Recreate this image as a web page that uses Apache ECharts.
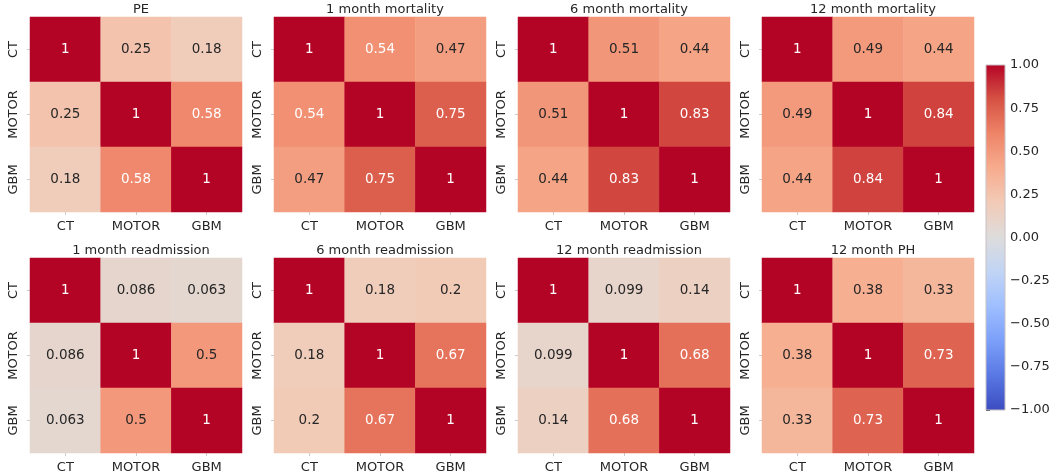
<!DOCTYPE html>
<html>
<head>
<meta charset="utf-8">
<script src="https://cdn.jsdelivr.net/npm/echarts@6/dist/echarts.min.js"></script>
<style>
  html, body { margin: 0; padding: 0; background: #fff; }
  #chart { width: 1056px; height: 475px; }
</style>
</head>
<body>
<div id="chart"></div>
<script>
// categories shared by every panel
const labels = ["CT", "MOTOR", "GBM"];
const titles = [
  "PE", "1 month mortality", "6 month mortality", "12 month mortality",
  "1 month readmission", "6 month readmission", "12 month readmission", "12 month PH"
];
// off-diagonal correlations per panel: [CT-MOTOR, CT-GBM, MOTOR-GBM]
const pe = [0.25, 0.18, 0.58];
const mort1 = [0.54, 0.47, 0.75];
const mort6 = [0.51, 0.44, 0.83];
const mort12 = [0.49, 0.44, 0.84];
const readm1 = [0.086, 0.063, 0.5];
const readm6 = [0.18, 0.2, 0.67];
const readm12 = [0.099, 0.14, 0.68];
const ph12 = [0.38, 0.33, 0.73];
const panels = [pe, mort1, mort6, mort12, readm1, readm6, readm12, ph12];
const cbarTicks = [-1, -0.75, -0.5, -0.25, 0, 0.25, 0.5, 0.75, 1];

// coolwarm colormap stops (low -> high)
const coolwarm = ["#3b4cc0", "#5977e3", "#7b9ff9", "#9ebeff", "#c0d4f5", "#dddcdc",
  "#f2cbb7", "#f7ac8e", "#ee8468", "#d65244", "#b40426"];

const chart = echarts.init(document.getElementById("chart"));
const textColor = "#262626";
const font = "DejaVu Sans";

function matrix(v) {
  const m = [[1, v[0], v[1]], [v[0], 1, v[2]], [v[1], v[2], 1]];
  const out = [];
  for (let r = 0; r < 3; r++) {
    for (let c = 0; c < 3; c++) {
      const val = m[r][c];
      out.push({
        value: [c, r, val],
        label: { color: val > 0.52 ? "#ffffff" : textColor }
      });
    }
  }
  return out;
}

const lefts = [30, 274, 518, 762];
const tops = [17, 258];
const gw = 212, gh = 195;

const grids = [], xAxes = [], yAxes = [], series = [], title = [];
panels.forEach((p, i) => {
  const col = i % 4, row = Math.floor(i / 4);
  grids.push({ left: lefts[col], top: tops[row], width: gw, height: gh });
  title.push({
    text: titles[i],
    left: lefts[col] + gw / 2,
    top: row === 0 ? -2 : 239,
    textAlign: "center",
    textStyle: { fontFamily: font, fontSize: 13, fontWeight: "normal", color: textColor }
  });
  xAxes.push({
    type: "category", data: labels, gridIndex: i,
    axisLine: { show: false }, splitLine: { show: false },
    axisTick: { show: true, alignWithLabel: true, length: 3, lineStyle: { color: "#cccccc" } },
    axisLabel: { fontFamily: font, fontSize: 13, color: textColor, margin: 8 }
  });
  yAxes.push({
    type: "category", data: labels, gridIndex: i, inverse: true,
    axisLine: { show: false }, splitLine: { show: false },
    axisTick: { show: true, alignWithLabel: true, length: 3, lineStyle: { color: "#cccccc" } },
    axisLabel: { fontFamily: font, fontSize: 13, color: textColor, rotate: 90, margin: 10 }
  });
  series.push({
    type: "heatmap", xAxisIndex: i, yAxisIndex: i,
    data: matrix(p),
    label: {
      show: true, fontFamily: font, fontSize: 13.5,
      formatter: (d) => String(d.value[2])
    },
    itemStyle: { borderWidth: 0 },
    emphasis: { disabled: true }
  });
});

// colorbar
const cb = panels.length;
grids.push({ left: 986, top: 65, width: 19, height: 345 });
xAxes.push({ type: "value", gridIndex: cb, min: 0, max: 1, show: false });
yAxes.push({
  type: "value", gridIndex: cb, min: -1, max: 1, interval: 0.25, position: "right",
  axisLine: { show: false }, splitLine: { show: false },
  axisTick: { show: true, length: 4, lineStyle: { color: textColor } },
  axisLabel: {
    fontFamily: font, fontSize: 13, color: textColor, margin: 5,
    formatter: (v) => (v < 0 ? "\u2212" + Math.abs(v).toFixed(2) : v.toFixed(2))
  }
});
series.push({
  type: "custom", xAxisIndex: cb, yAxisIndex: cb,
  data: [[0, cbarTicks[0], cbarTicks[cbarTicks.length - 1]]],
  renderItem: (params, api) => {
    const p0 = api.coord([0, api.value(2)]);
    const p1 = api.coord([1, api.value(1)]);
    const stops = coolwarm.slice().reverse().map((c, k) => ({ offset: k / (coolwarm.length - 1), color: c }));
    return {
      type: "rect",
      shape: { x: p0[0], y: p0[1], width: p1[0] - p0[0], height: p1[1] - p0[1] },
      style: {
        fill: new echarts.graphic.LinearGradient(0, 0, 0, 1, stops),
        stroke: "#c8c0c4", lineWidth: 1
      }
    };
  },
  silent: true
});

chart.setOption({
  backgroundColor: "#ffffff",
  animation: false,
  title: title,
  grid: grids,
  xAxis: xAxes,
  yAxis: yAxes,
  visualMap: {
    show: false, min: -1, max: 1, calculable: false,
    seriesIndex: panels.map((_, i) => i),
    dimension: 2,
    inRange: { color: coolwarm }
  },
  series: series
});
</script>
</body>
</html>
